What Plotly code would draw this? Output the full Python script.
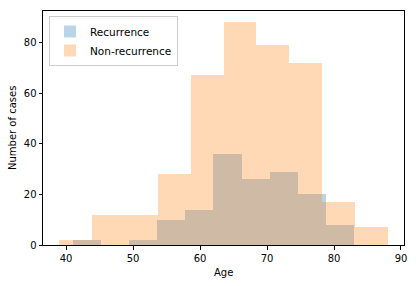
import plotly.graph_objects as go

# Histogram bin edges (Age) and counts
recurrence_edges = [41, 45.2, 49.4, 53.6, 57.8, 62, 66.2, 70.4, 74.6, 78.8, 83]
recurrence_counts = [2, 0, 2, 10, 14, 36, 26, 29, 20, 8]
nonrec_edges = [39, 43.9, 48.8, 53.7, 58.6, 63.5, 68.4, 73.3, 78.2, 83.1, 88]
nonrec_counts = [2, 12, 12, 28, 67, 88, 79, 72, 17, 7]
x_ticks = [40, 50, 60, 70, 80, 90]
y_ticks = [0, 20, 40, 60, 80]


def centers(edges):
    return [(a + b) / 2 for a, b in zip(edges[:-1], edges[1:])]


def widths(edges):
    return [b - a for a, b in zip(edges[:-1], edges[1:])]


fig = go.Figure()
fig.add_trace(go.Bar(
    x=centers(recurrence_edges), y=recurrence_counts, width=widths(recurrence_edges),
    name="Recurrence", marker=dict(color="#1f77b4", line=dict(width=0)), opacity=0.3,
))
fig.add_trace(go.Bar(
    x=centers(nonrec_edges), y=nonrec_counts, width=widths(nonrec_edges),
    name="Non-recurrence", marker=dict(color="#ff7f0e", line=dict(width=0)), opacity=0.3,
))

axis_common = dict(
    showgrid=False, zeroline=False, showline=True, linecolor="black", linewidth=1,
    mirror=True, ticks="outside", ticklen=3.5, tickwidth=1, tickcolor="black",
    tickfont=dict(family="DejaVu Sans", size=10, color="black"),
    automargin=False,
)

L, R, T, B = 43, 12, 11, 41
W, H = 416, 286
pw, ph = W - L - R, H - T - B

fig.update_layout(
    width=W, height=H,
    margin=dict(l=L, r=R, t=T, b=B),
    paper_bgcolor="white", plot_bgcolor="white",
    barmode="overlay", bargap=0,
    font=dict(family="DejaVu Sans", size=10, color="black"),
    showlegend=True,
    legend=dict(
        x=6 / pw, y=1 - 5 / ph, xanchor="left", yanchor="top",
        bgcolor="rgba(255,255,255,0.8)", bordercolor="#cccccc", borderwidth=1,
        font=dict(family="DejaVu Sans", size=10.5, color="black"),
        tracegroupgap=0,
    ),
    xaxis=dict(range=[36.55, 90.45], tickvals=x_ticks, **axis_common),
    yaxis=dict(range=[0, 92.4], tickvals=y_ticks, **axis_common),
    annotations=[
        dict(text="Age", xref="paper", yref="paper", x=0.5, y=-(272 - (H - B)) / ph,
             xanchor="center", yanchor="middle", showarrow=False,
             font=dict(family="DejaVu Sans", size=10, color="black")),
        dict(text="Number of cases", xref="paper", yref="paper", x=-(L - 12) / pw, y=0.5,
             xanchor="center", yanchor="middle", textangle=-90, showarrow=False,
             font=dict(family="DejaVu Sans", size=10, color="black")),
    ],
)

fig.write_html(
    "out.html",
    config={"displayModeBar": False, "staticPlot": True},
    post_script="document.body.style.margin='0';document.body.style.padding='0';",
)
